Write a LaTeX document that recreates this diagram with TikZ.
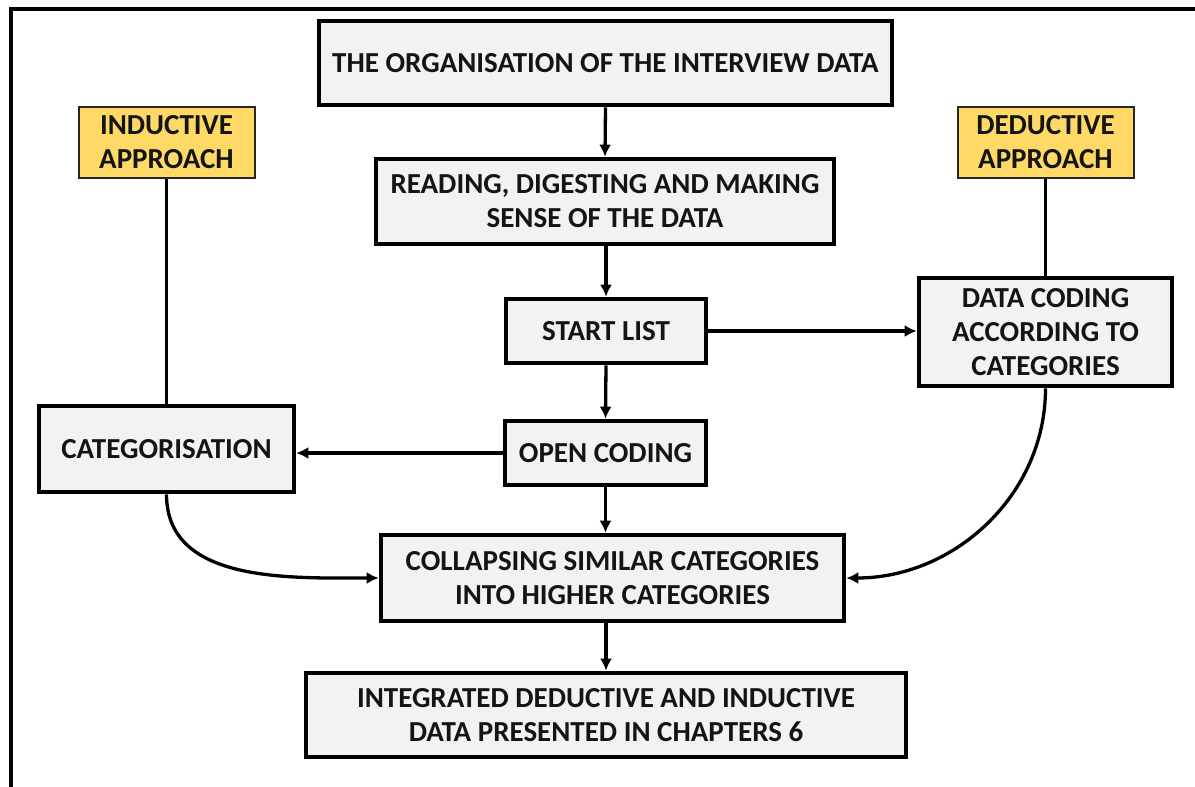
\documentclass[tikz,border=0pt]{standalone}
\usepackage{fontspec}
\setmainfont{Carlito}
\usetikzlibrary{arrows.meta}
\definecolor{boxfill}{HTML}{F2F2F2}
\definecolor{approachfill}{HTML}{FFD966}
\definecolor{inktext}{HTML}{141414}
\begin{document}
\begin{tikzpicture}[x=1pt,y=-1pt,
  stagebox/.style={draw=black,line width=4.6pt,fill=boxfill,align=center,
    inner sep=0pt,text=inktext,font=\fontsize{29}{34}\selectfont\bfseries},
  approachbox/.style={draw=black!85,line width=2pt,fill=approachfill,align=center,
    inner sep=0pt,text=inktext,font=\fontsize{29}{34}\selectfont\bfseries},
  flow/.style={line width=3.3pt,-{Latex[length=12pt,width=12pt]}},
  link/.style={line width=3.3pt}]
\useasboundingbox (0,0) rectangle (1195,787);
\fill[white] (0,0) rectangle (1195,787);
% outer frame (top and left edges)
\draw[line width=3.4pt] (11,790) -- (11,9) -- (1200,9);

% main column
\node[stagebox,minimum width=573pt,minimum height=84pt] (organise) at (605.5,63)
  {THE ORGANISATION OF THE INTERVIEW DATA};
\node[stagebox,minimum width=458pt,minimum height=85pt] (reading) at (605,201.5)
  {READING, DIGESTING AND MAKING\\SENSE OF THE DATA};
\node[stagebox,minimum width=200pt,minimum height=64pt] (startlist) at (606,331)
  {START LIST};
\node[stagebox,minimum width=201pt,minimum height=64pt] (opencoding) at (605.5,453)
  {OPEN CODING};
\node[stagebox,minimum width=463pt,minimum height=86pt] (collapse) at (612.5,578)
  {COLLAPSING SIMILAR CATEGORIES\\INTO HIGHER CATEGORIES};
\node[stagebox,minimum width=600pt,minimum height=84pt] (integrated) at (606,715)
  {INTEGRATED DEDUCTIVE AND INDUCTIVE\\DATA PRESENTED IN CHAPTERS 6};

% inductive side
\node[approachbox,minimum width=176pt,minimum height=71pt] (inductive) at (166.5,142)
  {INDUCTIVE\\APPROACH};
\node[stagebox,minimum width=255pt,minimum height=86pt] (categorise) at (166.5,449)
  {CATEGORISATION};

% deductive side
\node[approachbox,minimum width=176pt,minimum height=71pt] (deductive) at (1045.5,142)
  {DEDUCTIVE\\APPROACH};
\node[stagebox,minimum width=253pt,minimum height=108pt] (coding) at (1045.5,332)
  {DATA CODING\\ACCORDING TO\\CATEGORIES};

% connectors
\draw[flow] (organise.south) -- (reading.north);
\draw[flow] (reading.south -| startlist.north) -- (startlist.north);
\draw[flow] (startlist.south) -- (opencoding.north);
\draw[flow] (opencoding.south) -- (opencoding.south |- collapse.north);
\draw[flow] (collapse.south -| integrated.north) -- (integrated.north);
\draw[flow] (startlist.east) -- (startlist.east -| coding.west);
\draw[flow] (opencoding.west) -- (opencoding.west -| categorise.east);
\draw[link] (inductive.south) -- (categorise.north);
\draw[link] (deductive.south) -- (coding.north);
\draw[flow] (categorise.south) to[out=-90,in=180] (collapse.west);
\draw[flow] (coding.south) to[out=-90,in=0] (collapse.east);
\end{tikzpicture}
\end{document}
